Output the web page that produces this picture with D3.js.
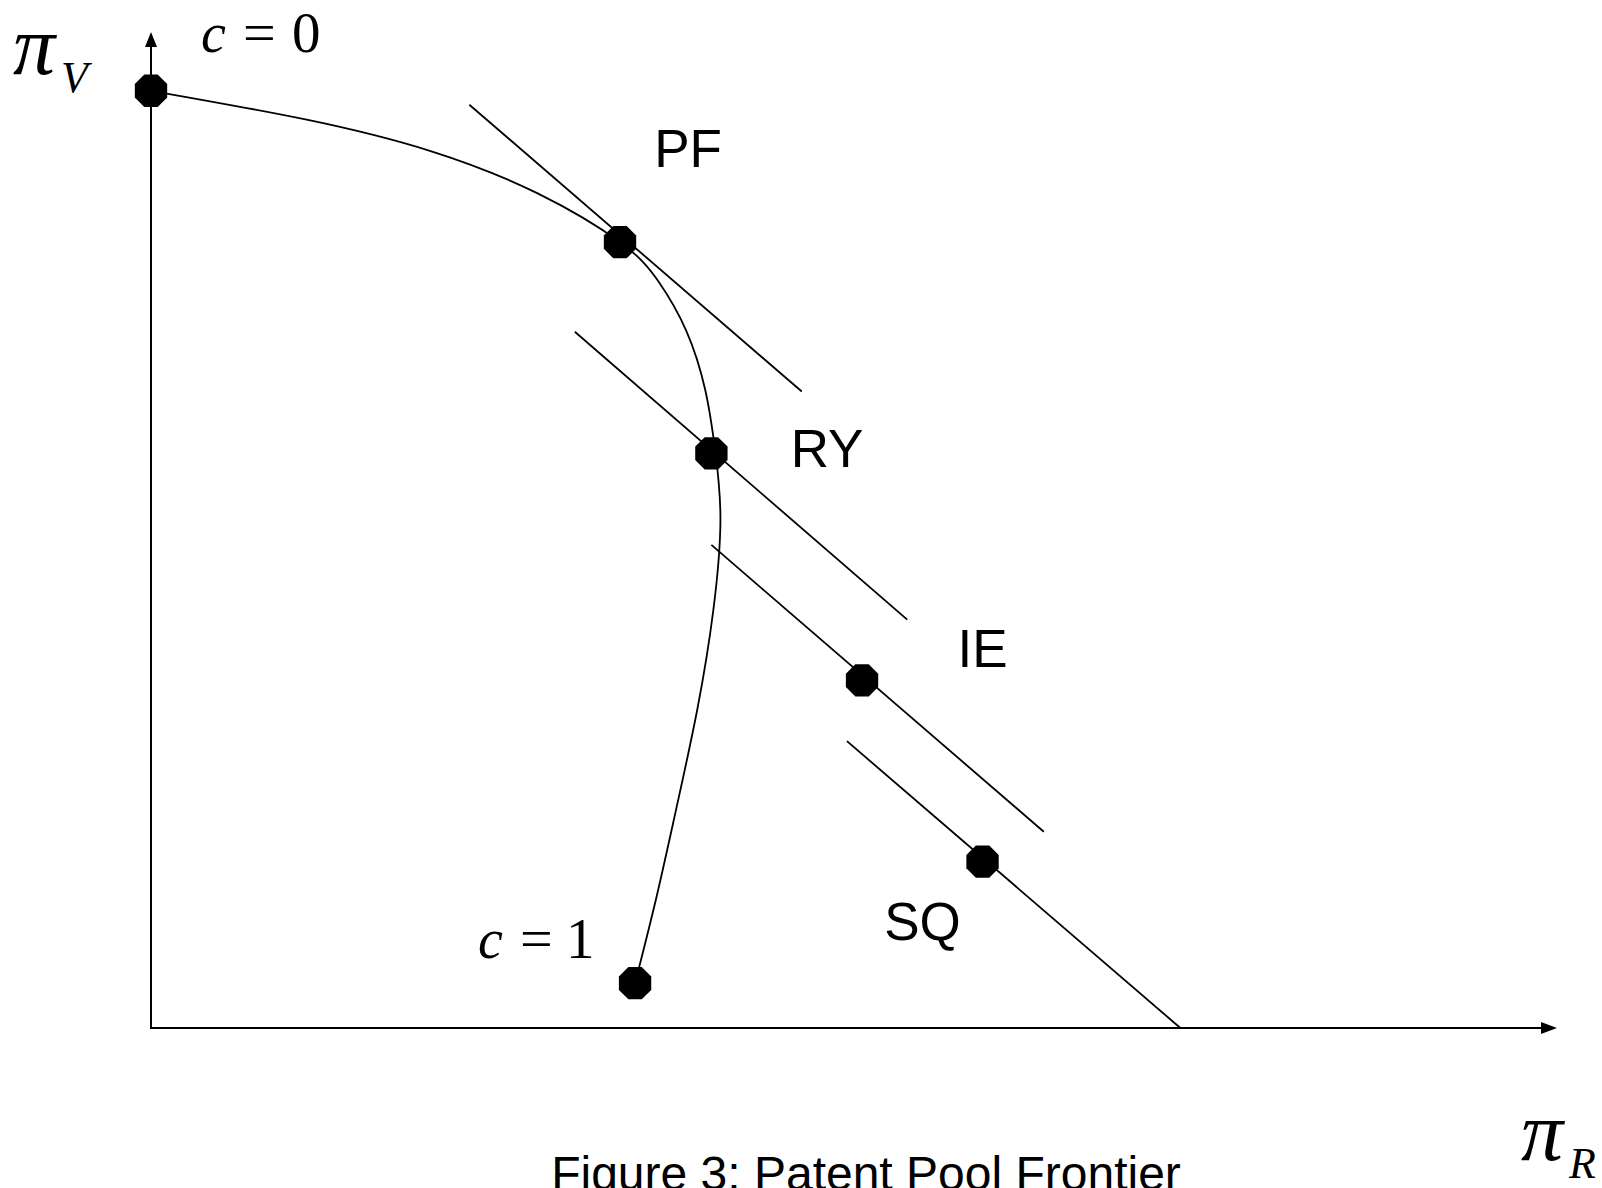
<!DOCTYPE html>
<html>
<head>
<meta charset="utf-8">
<script src="https://cdn.jsdelivr.net/npm/d3@7"></script>
<style>
  body { margin: 0; background: #fff; }
  .lbl { font-family: "Liberation Sans", Arial, sans-serif; font-size: 53px; fill: #000; }
  .math { font-family: "Liberation Serif", "Times New Roman", serif; fill: #000; }
  .caption { font-family: "Liberation Sans", Arial, sans-serif; font-size: 48px; fill: #000; }
</style>
</head>
<body>
<div id="chart"></div>
<script>
// frontier curve from c = 0 (top) down to c = 1 (bottom), in abstract payoff units
const frontier = [
  [0.00, 9.41], [1.55, 9.12], [2.80, 8.80], [3.85, 8.38],
  [4.67, 7.89], [5.05, 7.50], [5.33, 7.00], [5.52, 6.40], [5.62, 5.78],
  [5.67, 5.10], [5.60, 4.20], [5.44, 3.20], [5.23, 2.20], [5.03, 1.30],
  [4.82, 0.45]
];

// marked points on the frontier / lines
const dotNames = ["c0", "PF", "RY", "IE", "SQ", "c1"];
const dotX = [0.00, 4.67, 5.58, 7.08, 8.28, 4.82];
const dotY = [9.41, 7.89, 5.77, 3.49, 1.67, 0.45];

// iso-sum lines (start x, start y, end x, end y)
const isoLines = [
  [3.17, 9.27, 6.48, 6.39],
  [4.22, 6.99, 7.53, 4.10],
  [5.58, 4.85, 8.89, 1.97],
  [6.93, 2.88, 10.25, 0.00]
];

// regime labels and where they sit
const labelText = ["PF", "RY", "IE", "SQ"];
const labelX = [5.01, 6.37, 8.03, 7.30];
const labelY = [8.64, 5.63, 3.62, 0.88];

const width = 1602, height = 1188;

const x = d3.scaleLinear().domain([0, 14]).range([151, 1557]);
const y = d3.scaleLinear().domain([0, 10]).range([1028, 32]);

const svg = d3.select("#chart")
  .append("svg")
  .attr("width", width)
  .attr("height", height)
  .attr("viewBox", `0 0 ${width} ${height}`);

// axes with arrow heads
svg.append("line")
  .attr("x1", x(0)).attr("y1", y(0))
  .attr("x2", x(0)).attr("y2", y(10) + 12)
  .attr("stroke", "#000").attr("stroke-width", 2);
svg.append("path")
  .attr("d", `M${x(0)},${y(10)}l-6,15h12z`)
  .attr("fill", "#000");

svg.append("line")
  .attr("x1", x(0) - 1).attr("y1", y(0))
  .attr("x2", x(14) - 12).attr("y2", y(0))
  .attr("stroke", "#000").attr("stroke-width", 2);
svg.append("path")
  .attr("d", `M${x(14)},${y(0)}l-16,-6v12z`)
  .attr("fill", "#000");

// iso lines
svg.append("g")
  .selectAll("line")
  .data(isoLines)
  .enter()
  .append("line")
  .attr("x1", d => x(d[0])).attr("y1", d => y(d[1]))
  .attr("x2", d => x(d[2])).attr("y2", d => y(d[3]))
  .attr("stroke", "#000")
  .attr("stroke-width", 1.8);

// frontier
svg.append("path")
  .datum(frontier)
  .attr("fill", "none")
  .attr("stroke", "#000")
  .attr("stroke-width", 1.8)
  .attr("d", d3.line()
    .x(d => x(d[0]))
    .y(d => y(d[1]))
    .curve(d3.curveNatural));

// octagon markers
function octagon(r) {
  const pts = d3.range(8).map(k => {
    const a = Math.PI / 8 + k * Math.PI / 4;
    return [r * Math.cos(a), r * Math.sin(a)];
  });
  return "M" + pts.map(p => p.join(",")).join("L") + "Z";
}

svg.append("g")
  .selectAll("path")
  .data(dotNames.map((n, i) => ({ name: n, x: dotX[i], y: dotY[i] })))
  .enter()
  .append("path")
  .attr("class", "marker")
  .attr("d", octagon(17.5))
  .attr("transform", d => `translate(${x(d.x)}, ${y(d.y)})`)
  .attr("fill", "#000");

// regime labels
svg.append("g")
  .selectAll("text")
  .data(labelText.map((t, i) => ({ t, x: labelX[i], y: labelY[i] })))
  .enter()
  .append("text")
  .attr("class", "lbl")
  .attr("x", d => x(d.x))
  .attr("y", d => y(d.y))
  .text(d => d.t);

// c = 0 and c = 1
function cLabel(px, py, value) {
  const g = svg.append("g").attr("class", "math").attr("transform", `translate(${px}, ${py})`);
  g.append("text").attr("x", 0).attr("font-size", 56).attr("font-style", "italic").text("c");
  g.append("text").attr("x", 42).attr("font-size", 58).text("=");
  g.append("text").attr("x", value === "1" ? 88 : 91).attr("font-size", 57).text(value);
}
cLabel(201, 52, "0");
cLabel(478, 958, "1");

// axis titles: pi_V and pi_R
function piLabel(px, py, sub, dy) {
  const t = svg.append("text").attr("class", "math")
    .attr("x", px).attr("y", py);
  t.append("tspan").attr("font-style", "italic").attr("font-size", 84).text("π");
  t.append("tspan").attr("font-style", "italic").attr("font-size", 44)
    .attr("dx", 6).attr("dy", dy).text(sub);
}
piLabel(13, 74, "V", 18);
piLabel(1521, 1160, "R", 18);

// caption
svg.append("text")
  .attr("class", "caption")
  .attr("x", 866)
  .attr("y", 1190)
  .attr("text-anchor", "middle")
  .text("Figure 3: Patent Pool Frontier");
</script>
</body>
</html>
